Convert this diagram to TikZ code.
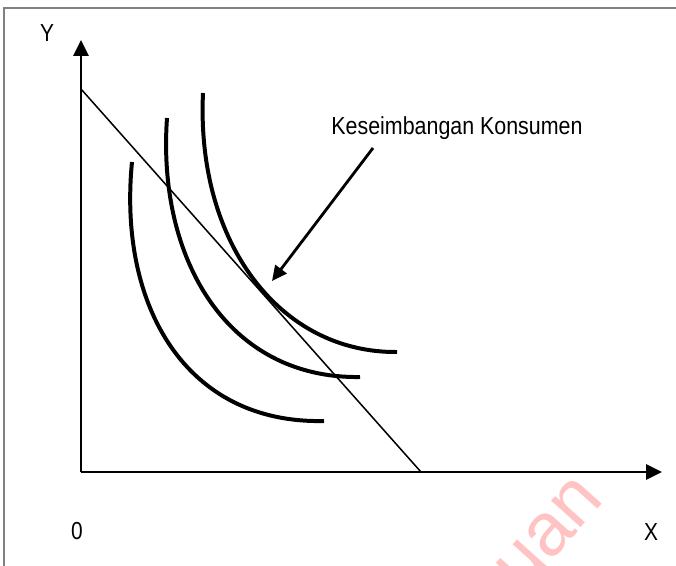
\documentclass[tikz,border=0pt]{standalone}
\usepackage{fontspec}
\usepackage{graphicx}
\setmainfont{Liberation Sans}
\usetikzlibrary{arrows.meta}
\definecolor{framegray}{RGB}{128,128,128}
\definecolor{wmark}{RGB}{255,195,195}
\begin{document}
\begin{tikzpicture}[x=0.03cm,y=-0.03cm,
  axisline/.style={line width=2.5pt,-{Triangle[length=0.48cm,width=0.45cm]}},
  icurve/.style={line width=3.4pt,line cap=butt},
  budget/.style={line width=1.3pt},
  pointer/.style={line width=2.4pt,-{Triangle[length=0.45cm,width=0.42cm]}},
  lab/.style={font=\fontsize{21}{25}\selectfont,inner sep=0pt}]
\useasboundingbox (0,0) rectangle (676,566);
\clip (0,0) rectangle (676,566);
% watermark
\node[font=\fontsize{64}{68}\selectfont,text=wmark,rotate=48,anchor=base east,inner sep=0pt] (wm) at (606,500) {huan};
% frame
\draw[framegray,line width=1.5pt] (4,570) -- (4,8) -- (680,8);
% axes
\coordinate (O) at (81,472);
\coordinate (ytip) at (81,40);
\coordinate (xtip) at (662,472);
\draw[axisline] (O) -- (ytip);
\draw[axisline] (O) -- (xtip);
% budget line
\coordinate (bA) at (81,89);
\coordinate (bB) at (421,472);
\draw[budget] (bA) -- (bB);
% indifference curves
\draw[icurve] (132,162) .. controls (118,305) and (185,424) .. (324,421);
\draw[icurve] (167,118) .. controls (157,260) and (228,379) .. (360,377);
\draw[icurve] (203,93) .. controls (196,243) and (280,353) .. (397,352);
% labels
\node[lab] (ylab) at (47,33) {\scalebox{0.85}[1]{Y}};
\node[lab] (olab) at (77,531) {\scalebox{0.85}[1]{0}};
\node[lab] (xlab) at (651,532) {\scalebox{0.85}[1]{X}};
\node[lab] (lbl) at (457,128) {\scalebox{0.87}[1]{Keseimbangan Konsumen}};
% pointer
\coordinate (as) at (373,148);
\coordinate (eq) at (272,281);
\draw[pointer] (as) -- (eq);
\end{tikzpicture}
\end{document}
